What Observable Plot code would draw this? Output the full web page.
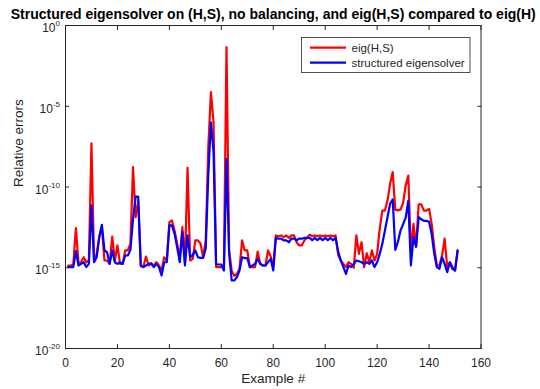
<!DOCTYPE html>
<html><head><meta charset="utf-8">
<script src="https://cdn.jsdelivr.net/npm/d3@7"></script>
<script src="https://cdn.jsdelivr.net/npm/@observablehq/plot@0.6"></script>
<style>
body{margin:0;background:#fff;}
svg{font-family:"Liberation Sans",Arial,Helvetica,sans-serif;}
</style>
</head><body><div id="chart"></div>
<script>
const titleText = "Structured eigensolver on (H,S), no balancing, and eig(H,S) compared to eig(H)";
const xLabel = "Example #";
const yLabel = "Relative errors";
const seriesNames = ["eig(H,S)", "structured eigensolver"];
const seriesColors = ["#ff0000", "#0000ff"];
const xTicks = [0, 20, 40, 60, 80, 100, 120, 140, 160];
const yTickExponents = [0, -5, -10, -15, -20];

// log10 of relative errors, examples 1..151
const eigLog10 = [
 -14.86,-14.86,-14.8,-12.55,-14.7,-14.66,-14.35,-14.66,-14.55,-7.29,
 -14.6,-14.14,-13.1,-12.5,-14.55,-14.55,-14.76,-13.07,-14.55,-13.62,
 -14.76,-14.76,-13.93,-13.93,-13.5,-8.77,-11.87,-10.9,-14.92,-14.92,
 -14.31,-14.86,-14.76,-14.86,-14.66,-14.86,-15.17,-14.35,-14.55,-12.18,
 -12.07,-12.69,-13.52,-14.35,-12.49,-14.66,-8.81,-14.55,-14.45,-13.31,
 -13.31,-13.5,-14.35,-13.3,-7.5,-4.13,-6.0,-14.96,-14.96,-14.96,
 -14.96,-1.34,-13.9,-15.2,-15.5,-15.38,-15.07,-13.31,-13.93,-13.93,
 -14.96,-14.96,-14.96,-14.0,-14.76,-14.86,-14.86,-13.93,-14.3,-14.96,
 -13.0,-13.05,-13.0,-13.1,-13.0,-13.15,-13.0,-13.0,-13.42,-13.62,
 -13.62,-13.3,-13.15,-12.95,-13.05,-13.0,-13.05,-13.0,-13.05,-13.0,
 -13.05,-13.0,-13.05,-13.0,-14.2,-14.55,-14.76,-14.96,-14.66,-14.76,
 -15.0,-13.0,-14.14,-13.42,-14.96,-14.1,-14.66,-13.93,-14.55,-14.14,
 -12.59,-11.46,-11.46,-10.84,-9.8,-9.08,-11.4,-11.45,-11.4,-11.0,
 -9.9,-9.29,-14.0,-12.28,-13.7,-11.08,-11.08,-11.46,-11.46,-11.35,
 -12.28,-13.73,-14.86,-14.86,-14.24,-13.2,-14.96,-14.66,-14.96,-15.17,
 -13.93
];
const structLog10 = [
 -14.96,-14.96,-14.96,-13.97,-14.86,-14.76,-14.66,-14.96,-14.76,-11.15,
 -14.66,-14.35,-13.1,-12.34,-13.93,-14.04,-14.76,-13.93,-14.66,-14.76,
 -14.66,-14.76,-14.24,-14.24,-13.9,-12.0,-10.6,-10.6,-14.86,-14.96,
 -14.86,-14.76,-14.72,-14.96,-14.76,-14.96,-15.48,-14.66,-14.66,-12.38,
 -12.38,-12.9,-13.73,-14.66,-12.8,-14.86,-13.0,-14.35,-14.2,-13.93,
 -14.35,-14.39,-14.39,-13.8,-9.2,-5.99,-7.8,-14.8,-14.8,-14.8,
 -15.17,-8.26,-14.1,-15.79,-15.79,-15.58,-15.17,-14.35,-14.4,-14.4,
 -14.96,-14.86,-14.76,-14.45,-14.76,-14.86,-14.86,-14.65,-14.45,-15.17,
 -13.15,-13.2,-13.2,-13.3,-13.3,-13.42,-13.2,-13.2,-13.3,-13.2,
 -13.2,-13.15,-13.15,-13.15,-13.3,-13.15,-13.3,-13.15,-13.3,-13.15,
 -13.3,-13.15,-13.3,-13.15,-14.0,-14.55,-14.96,-15.38,-14.86,-14.96,
 -14.76,-14.55,-14.6,-14.66,-14.76,-14.66,-14.76,-14.55,-14.96,-14.66,
 -14.14,-13.52,-12.69,-11.87,-11.04,-10.77,-13.9,-13.4,-12.7,-12.3,
 -11.9,-10.84,-14.86,-13.1,-13.7,-11.87,-12.0,-12.1,-12.1,-12.15,
 -12.9,-14.14,-14.96,-15.07,-14.35,-14.76,-15.27,-14.66,-15.07,-15.17,
 -13.93
];

const exampleIndex = eigLog10.map((_, i) => i + 1);
const rows = exampleIndex.map((x, i) => ({x, eig: 10 ** eigLog10[i], struct: 10 ** structLog10[i]}));
const yTicks = yTickExponents.map(e => 10 ** e);

const ink = "#262626";
const ML = 65, MR = 59.5, MT = 25, MB = 41;

const plot = Plot.plot({
  width: 540, height: 389,
  marginLeft: ML, marginRight: MR, marginTop: MT, marginBottom: MB,
  style: {background: "#fff", color: ink, fontSize: "12px", fontFamily: "Liberation Sans, Arial, sans-serif"},
  x: {domain: [0, 160]},
  y: {type: "log", domain: [1e-20, 1]},
  marks: [
    Plot.line(rows, {x: "x", y: "eig", stroke: seriesColors[0], strokeWidth: 2.2}),
    Plot.line(rows, {x: "x", y: "struct", stroke: seriesColors[1], strokeWidth: 2.2}),
    Plot.frame({stroke: ink, strokeWidth: 1}),
    Plot.axisX({anchor: "bottom", ticks: xTicks, tickSize: -4, tickPadding: 14, tickFormat: d => String(d), label: null, fontSize: 12, stroke: ink, fill: ink}),
    Plot.axisX({anchor: "top", ticks: xTicks, tickSize: -4, tickFormat: () => "", label: null, stroke: ink}),
    Plot.axisY({anchor: "left", ticks: yTicks, tickSize: -4, tickFormat: () => "", label: null, stroke: ink}),
    Plot.axisY({anchor: "right", ticks: yTicks, tickSize: -4, tickFormat: () => "", label: null, stroke: ink}),
    Plot.text([titleText], {text: d => d, frameAnchor: "top", dy: -7, lineAnchor: "bottom", fontWeight: "bold", fontSize: 14, fill: "#000"}),
    Plot.text([xLabel], {text: d => d, frameAnchor: "bottom", dy: 25, lineAnchor: "top", fontSize: 13.5, fill: ink}),
    Plot.text([yLabel], {text: d => d, frameAnchor: "left", dx: -47, rotate: -90, fontSize: 13.5, fill: ink})
  ]
});

document.getElementById("chart").appendChild(plot);

// y tick labels with superscript exponents, positioned by the plot's y scale
const sy = plot.scale("y");
const svg = d3.select(plot);
const gy = svg.append("g").attr("fill", ink).attr("font-size", 12);
yTickExponents.forEach(e => {
  const yy = sy.apply(10 ** e);
  const t = gy.append("text").attr("x", ML - 5).attr("y", yy + 7).attr("text-anchor", "end");
  t.append("tspan").text("10");
  t.append("tspan").attr("dy", -6).attr("font-size", 8).text(String(e));
});

// legend
const lg = svg.append("g");
lg.append("rect").attr("x", 301.5).attr("y", 37.5).attr("width", 168.5).attr("height", 35)
  .attr("fill", "#fff").attr("stroke", ink).attr("stroke-width", 0.8);
seriesNames.forEach((name, i) => {
  const yy = 47.7 + i * 15;
  lg.append("line").attr("x1", 310).attr("x2", 346).attr("y1", yy).attr("y2", yy)
    .attr("stroke", seriesColors[i]).attr("stroke-width", 2.2);
  lg.append("text").attr("x", 351.5).attr("y", yy).attr("dy", "0.35em").attr("text-anchor", "start")
    .attr("font-size", 11.5).attr("fill", ink).text(name);
});
</script>
</body></html>
